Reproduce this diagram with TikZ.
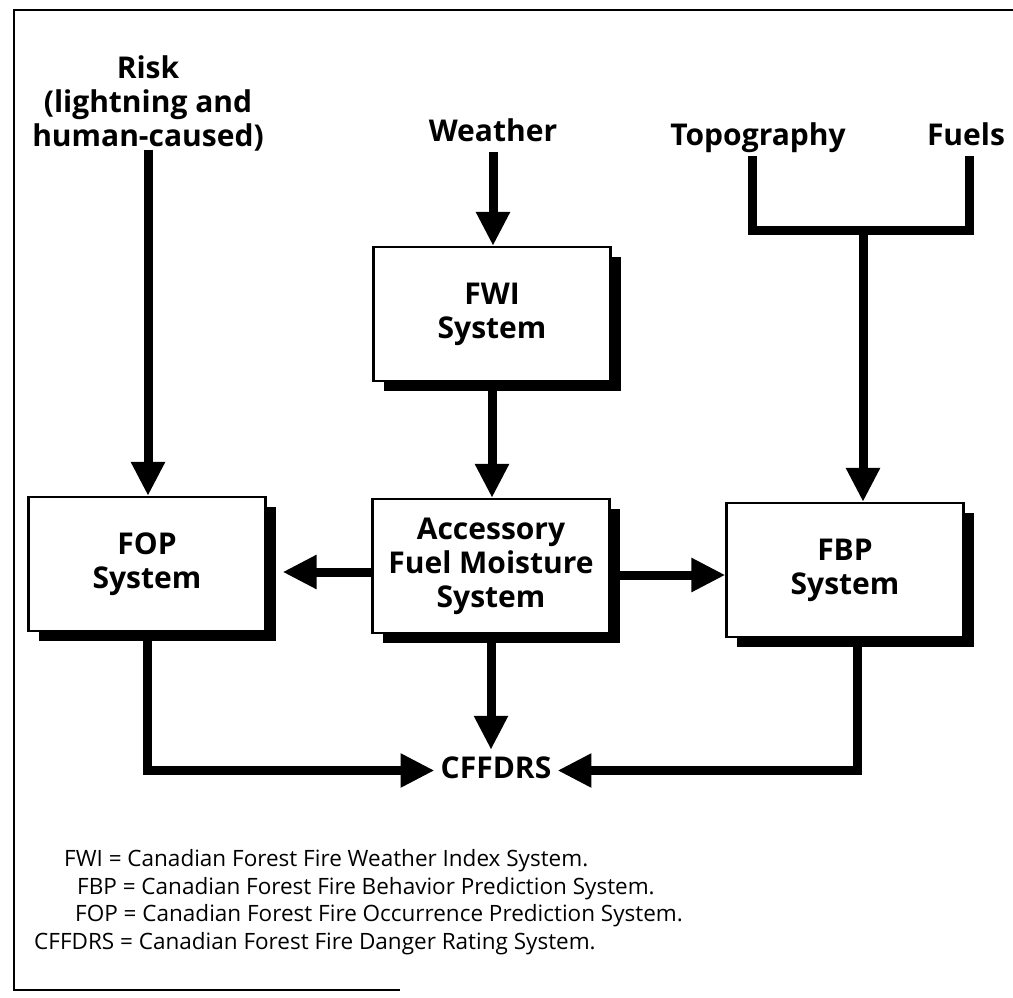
\documentclass[tikz,border=0pt]{standalone}
\usepackage{fontspec}
\setmainfont{Open Sans}
\usetikzlibrary{arrows.meta,shadows}
\begin{document}
\begin{tikzpicture}[x=1pt,y=-1pt,
  lbl/.style={font=\bfseries\fontsize{30}{34}\selectfont, align=center,
    inner sep=4pt, text height=22pt, text depth=7pt},
  multilbl/.style={font=\bfseries\fontsize{30}{34}\selectfont, align=center,
    inner sep=4pt},
  sysbox/.style={draw=black, line width=2.2pt, fill=white,
    minimum width=237pt, minimum height=134pt, align=center,
    font=\bfseries\fontsize{30}{34}\selectfont,
    drop shadow={shadow xshift=10pt, shadow yshift=-10pt, fill=black, opacity=1}},
  conn/.style={line width=9pt, line join=miter},
  arr/.style={conn, -{Triangle[length=34pt,width=32pt]}},
  note/.style={anchor=base west, inner sep=0pt, font=\fontsize{22.5}{28}\selectfont},
]
\useasboundingbox (0,0) rectangle (1013,998);

% frame
\draw[line width=2.5pt] (1013,10) -- (14,10) -- (14,990) -- (400,990);

% inputs
\node[multilbl] (risk) at (148,103) {Risk\\(lightning and\\human-caused)};
\node[lbl, anchor=base] (weather) at (493,141) {Weather};
\node[lbl, anchor=base] (topo) at (758,145) {Topography};
\node[lbl, anchor=base] (fuels) at (966,145) {Fuels};

% systems
\node[sysbox] (fwi) at (492,314) {FWI\\System};
\node[sysbox] (fop) at (147,564) {FOP\\System};
\node[sysbox] (acc) at (491,566) {Accessory\\Fuel Moisture\\System};
\node[sysbox] (fbp) at (845,570) {FBP\\System};

% output
\node[lbl, anchor=base, inner sep=6pt] (cff) at (496,778) {CFFDRS};

% connectors
\draw[arr] ([yshift=5pt]risk.south) -- (risk.south |- fop.north);
\draw[arr] (weather.south) -- (weather.south |- fwi.north);
\draw[arr] (fwi.south) -- (fwi.south |- acc.north);

\coordinate (fopE) at ([xshift=16pt]fop.east);
\coordinate (accW) at ([yshift=-6pt]acc.west);
\coordinate (accE) at ([yshift=-9pt]acc.east);
\draw[arr] (accW) -- (accW -| fopE);
\draw[arr] (accE) -- (accE -| fbp.west);

\coordinate (tj) at (863,230);
\draw[conn] ([xshift=-6pt]topo.south) |- (tj) -| ([xshift=3pt]fuels.south);
\draw[arr] (tj) -- (tj |- fbp.north);

\draw[arr] (fop.south) |- (cff.west);
\draw[arr] (acc.south) -- (acc.south |- cff.north);
\draw[arr] ([xshift=12pt]fbp.south) |- (cff.east);

% legend
\node[note] (nfwi) at (64,866) {FWI = Canadian Forest Fire Weather Index System.};
\node[note] (nfbp) at (77,894) {FBP = Canadian Forest Fire Behavior Prediction System.};
\node[note] (nfop) at (75,921) {FOP = Canadian Forest Fire Occurrence Prediction System.};
\node[note] (ncff) at (34,949) {CFFDRS = Canadian Forest Fire Danger Rating System.};
\end{tikzpicture}
\end{document}
